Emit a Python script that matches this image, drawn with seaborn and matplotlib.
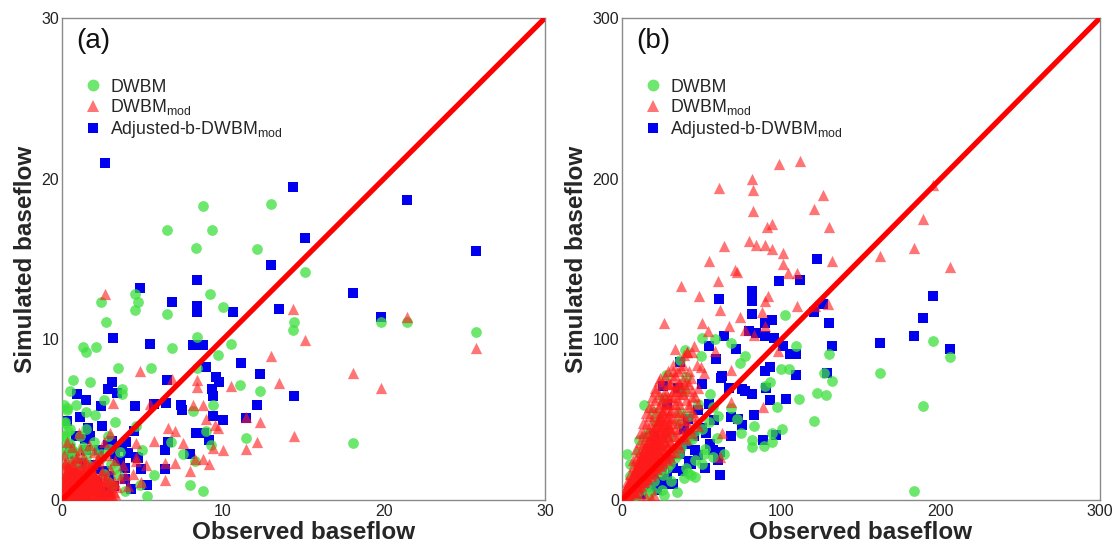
import matplotlib
matplotlib.use("Agg")
import matplotlib.pyplot as plt
import seaborn as sns
from matplotlib.lines import Line2D

# ---------------- Panel (a) data ----------------
a_dwbm_x = [8.74, 12.97, 6.55, 9.3, 8.35, 12.1, 15.1, 4.56, 4.72, 2.44, 4.56, 2.75, 6.53, 9.2, 10.0,
            14.4, 14.35, 19.8, 21.4, 25.7, 8.37, 1.28, 1.5, 2.1, 6.86, 10.5, 9.7, 3.45, 5.5, 8.4,
            11.07, 12.3, 0.66, 1.77, 0.5, 3.7, 3.7, 9.4, 8.15, 2.06, 1.5, 0.84, 0.29, 2.6, 3.28,
            4.6, 1.5, 8.92, 11.4, 18.1, 9.25, 6.8, 4.94, 7.5, 8.26, 5.71, 7.93, 3.94, 5.27, 8.77,
            4.83, 0.18, 0.4, 0.62, 0.18, 0.84, 1.28, 0.4, 1.5, 1.95, 2.83, 2.4, 3.06, 0.62, 2.83,
            1.73, 3.5, 0.18, 0.5, 0.1, 0.2, 0.3, 0.2, 0.1, 0.4, 0.5, 0.6, 0.7, 0.8, 0.9, 1.0,
            1.1, 1.3, 1.4, 1.6, 1.8, 2.0, 2.2, 2.4, 2.6, 2.9, 3.1, 3.3, 3.6, 0.1, 0.3, 0.1]
a_dwbm_y = [18.3, 18.45, 16.8, 16.8, 15.7, 15.6, 14.2, 12.85, 12.35, 12.33, 11.8, 11.05, 11.55, 12.8, 12.0,
            11.1, 10.55, 11.05, 11.05, 10.45, 10.17, 9.52, 9.24, 9.52, 9.45, 9.7, 9.04, 8.21, 8.21, 8.21,
            7.17, 6.8, 7.45, 7.34, 6.8, 6.9, 6.58, 5.93, 5.53, 5.27, 5.49, 5.93, 5.71, 6.25, 4.84,
            4.62, 4.4, 4.29, 3.86, 3.57, 3.42, 3.64, 3.1, 2.88, 2.44, 1.57, 0.96, 0.59, 0.26, 0.59,
            0.92, 3.96, 3.53, 3.1, 2.88, 2.44, 3.31, 2.0, 2.66, 3.1, 3.96, 2.88, 2.22, 1.57, 1.13,
            1.57, 1.57, 4.84, 4.4, 0.3, 1.2, 2.2, 3.2, 3.9, 4.3, 3.5, 2.6, 1.5, 3.0, 0.5, 2.0,
            4.0, 1.0, 3.2, 2.2, 1.4, 3.6, 0.8, 2.6, 1.6, 3.2, 0.9, 2.0, 3.0, 4.8, 5.6, 5.9]

a_mod_x = [2.68, 4.83, 6.86, 8.37, 8.37, 10.5, 13.0, 13.5, 14.35, 15.1, 21.4, 25.7, 18.1, 19.8, 11.4,
           12.3, 12.1, 11.4, 14.4, 10.0, 9.5, 9.7, 9.36, 8.92, 8.15, 8.77, 6.6, 7.0, 5.71, 7.5,
           5.45, 6.38, 7.0, 7.93, 8.26, 8.77, 9.14, 6.42, 4.6, 4.6, 3.94, 3.17, 1.06,
           0.1, 0.2, 0.3, 0.4, 0.5, 0.6, 0.7, 0.8, 0.9, 1.0, 1.1, 1.2, 1.3, 1.4, 1.5, 1.6, 1.7,
           1.8, 1.9, 2.0, 2.1, 2.2, 2.3, 2.4, 2.5, 2.6, 2.7, 2.8, 2.9, 3.0, 3.1, 3.2, 3.3, 3.4,
           0.2, 0.4, 0.1, 0.6, 0.3, 0.9, 1.1, 1.5, 1.7, 2.0, 0.5, 0.2, 0.8, 1.3, 3.6, 3.8, 4.1,
           4.4, 4.6, 4.9, 5.2, 0.15, 0.35, 0.55, 0.75, 1.05, 1.25, 0.45, 0.65, 0.25, 2.6, 3.0]
a_mod_y = [12.8, 8.0, 7.56, 7.45, 7.06, 7.1, 8.98, 7.28, 11.9, 9.96, 11.4, 9.46, 7.9, 6.97, 5.16,
           4.84, 3.64, 3.2, 4.0, 3.1, 4.66, 4.5, 3.25, 5.05, 5.93, 5.93, 4.5, 4.29, 3.7, 3.57,
           5.97, 2.33, 2.33, 1.83, 2.55, 2.55, 2.22, 1.24, 3.53, 2.44, 1.57, 6.03, 4.18,
           0.1, 0.4, 0.2, 0.8, 0.3, 1.1, 0.5, 0.2, 1.4, 0.7, 0.3, 1.0, 1.8, 0.5, 1.3, 0.2, 0.9,
           2.0, 0.6, 1.5, 0.3, 1.1, 2.4, 0.7, 1.8, 0.2, 1.3, 2.8, 0.6, 1.9, 0.3, 1.2, 2.5, 0.8,
           1.6, 2.2, 2.8, 3.3, 3.6, 2.6, 3.1, 2.4, 3.4, 3.0, 1.9, 0.9, 1.7, 2.6, 1.4, 2.2, 0.9,
           1.6, 2.7, 1.1, 2.2, 0.25, 0.6, 0.15, 0.45, 0.15, 0.55, 0.05, 0.25, 0.7, 3.6, 4.2]
# dense part of DWBM_mod near the origin in panel (a)
a_mod_dense_x = [0.1, 0.1, 0.1, 0.1, 0.3, 0.3, 0.3, 0.3, 0.3, 0.5, 0.5, 0.5, 0.5, 0.5,
                 0.7, 0.7, 0.7, 0.7, 0.7, 0.9, 0.9, 0.9, 0.9, 0.9, 1.1, 1.1, 1.1, 1.1, 1.1,
                 1.3, 1.3, 1.3, 1.3, 1.5, 1.5, 1.5, 1.5, 1.5, 1.7, 1.7, 1.7, 1.7,
                 1.9, 1.9, 1.9, 1.9, 2.1, 2.1, 2.1, 2.1, 2.3, 2.3, 2.3, 2.5, 2.5,
                 2.7, 2.9, 3.1, 3.3, 0.2, 0.6, 1.0, 1.4,
                 0.2, 0.2, 0.2, 0.2, 0.2, 0.2, 0.4, 0.4, 0.4, 0.4, 0.4,
                 0.6, 0.6, 0.6, 0.6, 0.6, 0.6, 0.8, 0.8, 0.8, 0.8, 0.8,
                 1.0, 1.0, 1.0, 1.0, 1.0, 1.2, 1.2, 1.2, 1.2, 1.2,
                 1.4, 1.4, 1.4, 1.4, 1.6, 1.6, 1.6, 1.6, 1.8, 1.8, 1.8, 1.8, 1.8,
                 2.0, 2.0, 2.0, 2.0, 2.2, 2.2, 2.2, 2.2, 2.4, 2.4, 2.4, 2.4,
                 2.6, 2.6, 2.6, 2.8, 2.8, 2.8, 3.0, 3.0, 3.0, 3.2, 3.2,
                 0.15, 0.3, 0.45, 0.6, 0.75, 0.9, 1.05, 1.2, 1.35, 1.5, 1.65, 1.8, 1.95, 2.1, 2.25, 2.4,
                 0.3, 0.6, 0.9, 1.2, 1.5, 1.8, 2.1]
a_mod_dense_y = [0.1, 0.5, 0.9, 1.3, 0.2, 0.6, 1.0, 1.4, 1.8, 0.1, 0.5, 0.9, 1.3, 1.7,
                 0.3, 0.7, 1.1, 1.5, 2.0, 0.2, 0.6, 1.0, 1.4, 1.8, 0.4, 0.8, 1.2, 1.6, 2.1,
                 0.1, 0.5, 0.9, 1.4, 0.3, 0.7, 1.1, 1.6, 2.0, 0.2, 0.6, 1.0, 1.5,
                 0.4, 0.8, 1.2, 1.7, 0.2, 0.6, 1.0, 1.4, 0.4, 0.8, 1.2, 0.3, 0.7,
                 0.3, 0.5, 0.2, 0.4, 2.3, 2.5, 2.7, 2.3,
                 0.3, 0.7, 1.1, 1.5, 1.9, 2.3, 0.3, 0.7, 1.1, 1.5, 1.9,
                 0.2, 0.6, 1.0, 1.4, 1.8, 2.2, 0.4, 0.8, 1.2, 1.6, 2.0,
                 0.2, 0.6, 1.0, 1.4, 1.8, 0.3, 0.7, 1.1, 1.5, 1.9,
                 0.2, 0.6, 1.0, 1.8, 0.4, 0.8, 1.2, 1.7, 0.2, 0.6, 1.0, 1.4, 1.8,
                 0.4, 0.8, 1.2, 1.6, 0.2, 0.6, 1.0, 1.4, 0.4, 0.8, 1.2, 1.6,
                 0.3, 0.7, 1.1, 0.4, 0.9, 1.4, 0.2, 0.7, 1.2, 0.5, 1.0,
                 0.15, 0.35, 0.5, 0.7, 0.85, 1.05, 1.2, 1.4, 1.55, 1.75, 1.9, 2.1, 2.25, 2.45, 2.6, 2.8,
                 0.1, 0.3, 0.5, 0.7, 0.9, 1.1, 1.3]

a_adj_x = [2.68, 14.35, 21.4, 15.1, 25.7, 13.0, 8.37, 4.83, 6.86, 8.37, 8.37, 10.6, 18.1, 13.5, 19.8,
           3.17, 5.49, 8.15, 8.77, 8.92, 11.1, 12.3, 9.54, 9.74, 6.5, 3.12, 2.83, 3.43, 0.95, 1.46,
           9.32, 9.36, 14.4, 6.49, 7.37, 7.44, 5.71, 4.56, 2.44, 12.1, 9.39, 10.0, 11.4, 1.1, 0.31,
           2.5, 1.6, 4.5, 8.32, 8.8, 6.6, 6.38, 7.93, 9.1, 6.38, 5.27, 0.84, 1.5, 2.83, 3.28,
           3.7, 4.1, 3.5, 3.9, 4.6, 4.9, 2.6, 1.95, 0.62, 2.17, 1.28, 2.83, 0.4, 1.73,
           0.3, 0.6, 1.0, 1.2, 1.7, 2.1, 2.5, 2.9, 3.2, 3.6, 3.9, 4.3, 4.7, 0.5, 1.4, 2.3, 3.1, 4.0]
a_adj_y = [21.0, 19.5, 18.7, 16.3, 15.5, 14.6, 13.7, 13.2, 12.3, 12.1, 11.7, 11.7, 12.9, 11.9, 11.4,
           10.1, 9.74, 9.63, 9.63, 8.26, 8.54, 7.82, 7.67, 7.34, 7.45, 7.34, 6.9, 6.69, 6.62, 6.25,
           6.9, 6.47, 6.47, 6.03, 5.93, 5.6, 5.97, 5.82, 5.88, 5.93, 5.23, 4.95, 5.12, 5.16, 4.9,
           4.58, 4.5, 4.29, 4.18, 4.18, 3.64, 3.1, 2.88, 3.75, 1.9, 0.92, 3.96, 3.1, 3.42, 2.88,
           3.3, 2.9, 2.4, 2.0, 2.66, 1.9, 1.8, 2.2, 2.88, 1.13, 0.7, 0.48, 1.13, 3.96,
           0.8, 1.7, 0.4, 2.3, 0.8, 1.9, 0.5, 1.5, 0.9, 2.4, 1.3, 0.7, 2.6, 3.2, 3.8, 3.1, 3.7, 3.6]

# ---------------- Panel (b) data ----------------
b_dwbm_x = [195.2, 205.8, 161.8, 188.9, 183.2, 102.5, 77.3, 73.9, 99.8, 105.0, 109.5, 129.8, 131.8, 127.0,
            122.4, 128.0, 111.0, 120.8, 97.1, 89.7, 93.0, 100.3, 94.2, 94.4, 89.0, 81.8, 81.8, 83.0, 74.4,
            72.1, 60.4, 68.3, 57.0, 54.8, 59.9, 63.8, 57.0, 50.3, 51.4, 45.7, 40.1, 36.7, 39.4, 49.8,
            50.3, 58.4, 68.3, 27.7, 13.5, 25.5, 39.0, 36.7, 41.2, 35.6, 41.2, 43.5, 45.7, 39.0, 34.5,
            26.1, 18.7, 25.5, 21.0, 30.0, 32.2, 16.5, 14.2, 5.2, 7.4, 2.9, 10.8, 21.0, 16.5,
            1, 3, 4, 6, 8, 9, 10, 12, 14, 15, 17, 18, 20, 22, 23, 25, 26, 28, 30, 31, 33, 35, 37,
            40, 42, 44, 46, 48, 50, 52, 55, 20, 15, 10, 5]
b_dwbm_y = [98.7, 89.1, 79.3, 58.5, 5.9, 115, 89.6, 85.2, 81.3, 81.3, 96, 90.6, 74.3, 79.1,
            66.7, 65.6, 62.8, 49.3, 58, 71, 73.3, 44.3, 41.7, 36.3, 33.5, 33, 37.4, 46, 41.7,
            50.4, 52, 57, 58, 48.3, 38.5, 28.7, 26.5, 22.2, 28.7, 42.8, 76.5, 87.4, 93.3, 89.6,
            100.9, 100, 97.6, 77.6, 59.1, 63.5, 67.8, 54.8, 37.4, 28.7, 16.7, 15.6, 14.6, 13.5, 4.8,
            3.0, 5.9, 15.6, 28.7, 22.2, 30.9, 22.2, 13.5, 22.2, 11.3, 28.7, 37.4, 48.3, 41.7,
            2, 1, 6, 3, 10, 2, 14, 6, 20, 9, 4, 25, 12, 30, 18, 6, 35, 20, 40, 12, 26, 48, 33,
            20, 52, 38, 25, 60, 44, 32, 66, 55, 40, 30, 15]

b_mod_x = [98.7, 111.6, 81.8, 82.5, 60.9, 126.4, 120.8, 82.5, 195.2, 188.9, 94.4, 90.8, 129.8, 79.5,
           84.0, 89.7, 63.8, 94.4, 100.9, 183.2, 161.8, 54.8, 100.9, 131.8, 205.8, 104.3, 110.0, 71.0,
           72.3, 60.4, 37.2, 48.4, 91.9, 89.7, 61.5, 73.9, 88.1, 110.0, 121.0, 129.0, 26.1, 50.3,
           54.0, 67.2, 77.3, 89.7, 83.0, 33.4, 40.8, 44.0, 58.6, 97.6, 32.2, 49.8, 51.4, 68.3, 24.0,
           21.0, 30.0, 36.7, 68.3, 88.6, 62.6, 61.5,
           2, 3, 4, 5, 6, 7, 8, 8, 9, 10, 10, 11, 12, 12, 13, 14, 14, 15, 16, 16, 17, 18, 18, 19,
           20, 20, 21, 22, 22, 23, 24, 24, 25, 26, 26, 27, 28, 28, 29, 30, 30, 31, 32, 33, 34, 34,
           35, 36, 36, 38, 38, 40, 40, 42, 43, 44, 46, 47, 48, 5, 6, 9, 11, 15, 19, 1, 2, 3, 4, 7,
           24, 27, 30, 33, 23, 37, 39, 41, 45, 15, 18, 20, 12]
b_mod_y = [209, 211, 200, 193, 194, 190, 181, 180, 196, 175, 172, 170, 170, 161,
           159, 159, 158, 156, 154, 157, 152, 149, 147, 149, 145, 141, 141, 143,
           142, 136, 133, 127, 127, 124, 118, 114, 117, 121, 121, 122, 110, 110,
           105, 108, 106, 108, 103, 94, 92, 92, 93, 93, 80, 83, 79, 81, 76,
           68, 72, 73, 61, 58, 42, 27,
           3, 6, 4, 9, 7, 12, 5, 15, 10, 18, 8, 14, 22, 11, 17, 26, 13, 20, 30, 15, 24, 34, 18, 27,
           38, 21, 31, 42, 24, 35, 46, 28, 39, 50, 31, 43, 56, 34, 47, 60, 37, 51, 64, 44, 68, 55,
           40, 72, 60, 50, 66, 45, 70, 58, 76, 64, 52, 84, 70, 2, 14, 20, 25, 35, 45, 1, 1, 2, 8, 5,
           60, 65, 72, 78, 52, 82, 90, 92, 96, 2, 1, 3, 1]
# dense wedge of DWBM_mod near the origin in panel (b)
b_mod_dense_x = [2, 2, 2, 4, 4, 4, 4, 6, 6, 6, 6, 8, 8, 8, 8, 10, 10, 10, 10, 10,
                 12, 12, 12, 12, 12, 14, 14, 14, 14, 14, 16, 16, 16, 16, 16,
                 18, 18, 18, 18, 18, 20, 20, 20, 20, 20, 22, 22, 22, 22, 22,
                 24, 24, 24, 24, 24, 26, 26, 26, 26, 26, 28, 28, 28, 28, 28,
                 30, 30, 30, 30, 30, 33, 33, 33, 33, 33, 36, 36, 36, 36,
                 40, 40, 40, 40, 44, 44, 44, 48, 48,
                 3, 3, 5, 5, 7, 7, 7, 9, 9, 9, 11, 11, 11, 11, 13, 13, 13, 13,
                 15, 15, 15, 15, 17, 17, 17, 17, 19, 19, 19, 19, 21, 21, 21, 21,
                 23, 23, 23, 23, 25, 25, 25, 27, 27, 27, 29, 29, 29, 32, 32, 32,
                 35, 35, 38, 38, 42,
                 3, 3, 5, 5, 7, 7, 7, 9, 9, 9, 11, 11, 11, 13, 13, 13, 15, 15, 15,
                 17, 17, 17, 19, 19, 19, 21, 21, 21, 23, 23, 23, 25, 25, 25,
                 27, 27, 27, 29, 29, 29, 31, 31, 31, 35, 35, 35, 38, 38, 38, 42, 42, 42, 46, 46,
                 1, 2, 3, 4, 5, 6, 7, 8, 9, 10, 11, 12, 13, 14, 15, 16, 17, 18, 19, 20,
                 21, 22, 23, 24, 25, 26, 27, 28, 29, 30,
                 2, 4, 6, 8, 10, 12, 14, 16, 18, 20, 22, 24, 26]
b_mod_dense_y = [1, 3, 5, 2, 5, 8, 10, 4, 7, 10, 13, 5, 9, 13, 17, 7, 11, 15, 20, 24,
                 9, 13, 18, 23, 28, 11, 16, 21, 27, 32, 13, 18, 24, 30, 36,
                 15, 21, 27, 33, 40, 17, 23, 30, 37, 44, 19, 26, 33, 40, 48,
                 21, 28, 36, 44, 52, 23, 31, 39, 47, 56, 25, 33, 42, 51, 60,
                 27, 36, 45, 55, 64, 30, 40, 50, 60, 70, 33, 44, 55, 66,
                 38, 50, 62, 74, 42, 55, 68, 46, 60,
                 8, 11, 12, 16, 16, 21, 25, 20, 26, 32, 24, 30, 36, 42, 28, 35, 42, 48,
                 33, 40, 47, 54, 37, 44, 52, 58, 42, 50, 58, 64, 46, 54, 62, 70,
                 50, 58, 66, 74, 55, 63, 72, 60, 68, 77, 64, 72, 80, 68, 76, 84,
                 72, 80, 75, 84, 80,
                 2, 4, 5, 7, 6, 9, 12, 8, 12, 16, 10, 15, 20, 12, 18, 24, 14, 22, 28,
                 16, 24, 32, 18, 26, 35, 20, 28, 38, 22, 31, 41, 24, 34, 45,
                 26, 37, 48, 28, 40, 52, 30, 43, 56, 35, 48, 62, 40, 53, 68, 45, 60, 72, 48, 65,
                 1.5, 3, 4, 6, 7, 9, 10, 12, 14, 15, 17, 18, 20, 22, 23, 25, 27, 28, 30, 31,
                 33, 35, 36, 38, 40, 41, 43, 45, 46, 48,
                 6, 10, 14, 18, 22, 26, 30, 34, 38, 42, 46, 50, 54]

b_adj_x = [122.4, 111.6, 98.7, 195.2, 81.8, 81.8, 60.9, 81.8, 120.8, 126.4, 188.9, 129.8, 94.2, 89.7,
           63.8, 79.5, 84.0, 89.7, 95.3, 100.9, 105.5, 109.5, 131.8, 161.8, 183.2, 205.8, 54.3, 59.3,
           36.7, 71.6, 62.6, 62.0, 89.7, 93.0, 109.5, 128.7, 25.5, 67.2, 75.0, 77.3, 81.8, 90.4, 93.0,
           103.2, 50.3, 68.3, 72.8, 75.0, 83.0, 68.3, 88.6, 96.5, 57.0, 61.5, 52.5, 45.7, 36.7, 61.5,
           27.7, 23.2, 43.5, 39.0, 41.2, 54.8, 48.0, 32.2,
           3, 5, 8, 10, 12, 15, 18, 20, 22, 25, 28, 30, 32, 35, 38, 40, 42, 45, 48, 50, 52, 55,
           58, 60, 20, 28, 35]
b_adj_y = [150, 137, 136, 127, 130, 124, 125, 116, 117, 122, 113, 110, 112, 110,
           102, 105, 104, 102, 101, 96, 91, 91, 96, 98, 102, 94, 96, 88,
           86, 94, 77, 76, 80, 83, 78, 79, 71, 70, 69, 68, 66, 70, 62,
           63, 72, 51.5, 50.5, 46.5, 53, 39.6, 37.4, 40.7, 30.9, 29.8, 41.7, 30.9, 28.7, 15.7,
           10.2, 11.3, 22.2, 43.9, 50.4, 60, 55.9, 20,
           2, 4, 6, 9, 4, 12, 8, 16, 6, 20, 14, 25, 10, 30, 18, 35, 24, 40, 28, 45, 20, 35,
           50, 25, 40, 60, 70]

axis_max_a = 30
axis_max_b = 300
ticks_a = [0, 10, 20, 30]
ticks_b = [0, 100, 200, 300]
panel_labels = ["(a)", "(b)"]
series_labels = ["DWBM", "DWBM$_{\\mathrm{mod}}$", "Adjusted-b-DWBM$_{\\mathrm{mod}}$"]
x_label = "Observed baseflow"
y_label = "Simulated baseflow"

# ---------------- Styling ----------------
sns.set_style("white")
plt.rcParams["font.family"] = ["Liberation Sans", "DejaVu Sans"]
plt.rcParams["mathtext.fontset"] = "custom"
plt.rcParams["mathtext.rm"] = "Liberation Sans"
plt.rcParams["mathtext.it"] = "Liberation Sans:italic"
plt.rcParams["mathtext.bf"] = "Liberation Sans:bold"

green = "#3ee03e"
red = "#ff1a1a"
blue = "#0000ee"

fig = plt.figure(figsize=(11.18, 5.48), dpi=100)
ax_a = fig.add_axes([62 / 1118, 1 - 500 / 548, 483 / 1118, 482 / 548])
ax_b = fig.add_axes([622 / 1118, 1 - 500 / 548, 478 / 1118, 482 / 548])

panels = [
    (ax_a, a_dwbm_x, a_dwbm_y, a_mod_x + a_mod_dense_x, a_mod_y + a_mod_dense_y,
     a_adj_x, a_adj_y, axis_max_a, ticks_a, panel_labels[0]),
    (ax_b, b_dwbm_x, b_dwbm_y, b_mod_x + b_mod_dense_x, b_mod_y + b_mod_dense_y,
     b_adj_x, b_adj_y, axis_max_b, ticks_b, panel_labels[1]),
]

for ax, gx, gy, rx, ry, bx, by, vmax, ticks, plabel in panels:
    sns.scatterplot(x=bx, y=by, ax=ax, marker="s", s=46, color=blue, linewidth=0, alpha=1.0, zorder=2)
    sns.scatterplot(x=gx, y=gy, ax=ax, marker="o", s=60, color=green, linewidth=0, alpha=0.75, zorder=3)
    sns.scatterplot(x=rx, y=ry, ax=ax, marker="^", s=66, color=red, linewidth=0, alpha=0.6, zorder=4)
    ax.axline((0, 0), slope=1, color="#ff0000", linewidth=3.8, zorder=5)
    ax.set_xlim(0, vmax)
    ax.set_ylim(0, vmax)
    ax.set_xticks(ticks)
    ax.set_yticks(ticks)
    ax.tick_params(axis="x", length=0, pad=3, labelsize=11.5, colors="#222222")
    ax.tick_params(axis="y", length=0, pad=2, labelsize=11.5, colors="#222222")
    for sp in ax.spines.values():
        sp.set_color("#8a8a8a")
        sp.set_linewidth(1.0)
    ax.set_xlabel(x_label, fontsize=17.5, fontweight="bold", labelpad=1)
    ax.set_ylabel(y_label, fontsize=17.5, fontweight="bold", labelpad=3)
    ax.text(0.03, 0.98, plabel, transform=ax.transAxes, fontsize=20, va="top", ha="left", color="#111111")
    handles = [
        Line2D([], [], marker="o", linestyle="", color=green, markersize=8.5, alpha=0.75, markeredgewidth=0),
        Line2D([], [], marker="^", linestyle="", color=red, markersize=8.5, alpha=0.6, markeredgewidth=0),
        Line2D([], [], marker="s", linestyle="", color=blue, markersize=7, markeredgewidth=0),
    ]
    ax.legend(handles, series_labels, loc="upper left", bbox_to_anchor=(0.017, 0.9), frameon=False,
              fontsize=12.8, handletextpad=0.35, labelspacing=0.1, handlelength=1.2, borderpad=0.2)

fig.savefig("out.png", dpi=100)
